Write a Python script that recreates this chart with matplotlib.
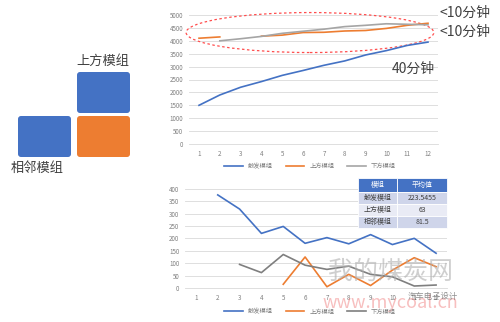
import numpy as np
import matplotlib
matplotlib.use('Agg')
import matplotlib.pyplot as plt
from matplotlib.patches import Ellipse, FancyBboxPatch, Rectangle

plt.rcParams['font.family'] = ['Noto Sans CJK SC', 'DejaVu Sans']

# top chart: time to heat up
x_top = np.arange(1, 13)
trigger_top = [1500, 1900, 2200, 2420, 2660, 2850, 3050, 3220, 3450, 3620, 3820, 3950]
upper_top = [4100, 4150, np.nan, 4180, 4220, 4320, 4330, 4380, 4400, 4480, 4600, 4680]
lower_top = [np.nan, 4000, 4080, 4170, 4290, 4370, 4450, 4550, 4600, 4660, 4640, 4620]
top_yticks = list(range(0, 5001, 500))

# bottom chart
x_bot = np.arange(1, 13)
trigger_bot = [np.nan, 375, 318, 220, 248, 180, 203, 178, 215, 175, 200, 140]
upper_bot = [np.nan, np.nan, np.nan, np.nan, 15, 125, 5, 55, 10, 72, 122, 86]
lower_bot = [np.nan, np.nan, 95, 62, 135, 92, 75, 88, 55, 45, 8, 12]
bot_yticks = list(range(0, 401, 50))

series_names = ['触发模组', '上方模组', '下方模组']
table_header = ['模组', '平均值']
table_rows = [['触发模组', '223.5455'], ['上方模组', '63'], ['相邻模组', '81.5']]

BLUE = '#4472C4'
ORANGE = '#ED7D31'
GRAY = '#A5A5A5'
TXT = '#7f7f7f'

W, H = 500, 322
fig = plt.figure(figsize=(W / 100, H / 100), dpi=100)


def px_axes(x0, x1, ytop, ybot):
    return fig.add_axes([x0 / W, 1 - ybot / H, (x1 - x0) / W, (ybot - ytop) / H])


def style(ax, yticks, ymax):
    ax.set_ylim(0, ymax)
    ax.set_xlim(0.5, 12.5)
    ax.set_yticks(yticks)
    ax.set_xticks(range(1, 13))
    ax.grid(axis='y', color='#d9d9d9', lw=0.6)
    ax.set_axisbelow(True)
    for s in ['top', 'right', 'left']:
        ax.spines[s].set_visible(False)
    ax.spines['bottom'].set_color('#d9d9d9')
    ax.spines['bottom'].set_linewidth(0.6)
    ax.tick_params(length=0, labelsize=4.5, colors=TXT, pad=4)


# top chart
ax1 = px_axes(188.6, 438.4, 15, 144)
style(ax1, top_yticks, 5000)
ax1.plot(x_top, trigger_top, color=BLUE, lw=1.2, label=series_names[0])
ax1.plot(x_top, upper_top, color=ORANGE, lw=1.2, label=series_names[1])
ax1.plot(x_top, lower_top, color=GRAY, lw=1.2, label=series_names[2])
ax1.add_patch(Ellipse((6.33, 4320), 11.9, 1550, fill=False, ec='#ff4d4d',
                      ls=(0, (2, 2)), lw=0.9, clip_on=False))
fig.legend(*ax1.get_legend_handles_labels(), loc='center', ncol=3,
           bbox_to_anchor=(310 / W, 1 - 166 / H), frameon=False, fontsize=4.5,
           handlelength=3, columnspacing=2, labelcolor=TXT)

# bottom chart
ax2 = px_axes(185, 447, 188.7, 288)
style(ax2, bot_yticks, 400)
ax2.plot(x_bot, trigger_bot, color=BLUE, lw=1.2, label=series_names[0])
ax2.plot(x_bot, upper_bot, color=ORANGE, lw=1.2, label=series_names[1])
ax2.plot(x_bot, lower_bot, color='#7f7f7f', lw=1.2, label=series_names[2])
fig.legend(*ax2.get_legend_handles_labels(), loc='center', ncol=3,
           bbox_to_anchor=(310 / W, 1 - 311.5 / H), frameon=False, fontsize=4.5,
           handlelength=3, columnspacing=2, labelcolor=TXT)

# overlay in pixel coords
ov = fig.add_axes([0, 0, 1, 1])
ov.set_xlim(0, W)
ov.set_ylim(H, 0)
ov.axis('off')
ov.patch.set_alpha(0)

for (x0, y0, c) in [(77, 72, BLUE), (77, 116, ORANGE), (18, 116, BLUE)]:
    ov.add_patch(FancyBboxPatch((x0 + 3, y0 + 3), 47, 35,
                                boxstyle='round,pad=3', fc=c, ec='none'))
ov.text(103, 61, '上方模组', ha='center', va='center', fontsize=9.5, color='#404040')
ov.text(37, 168, '相邻模组', ha='center', va='center', fontsize=9.5, color='#404040')

ov.text(439, 13, '<10分钟', ha='left', va='center', fontsize=10, color='#404040')
ov.text(439, 32, '<10分钟', ha='left', va='center', fontsize=10, color='#404040')
ov.text(392, 69, '40分钟', ha='left', va='center', fontsize=10, color='#404040')

# table
col_x = [358, 397, 447]
row_y = [178, 192, 204, 216, 228]
for j, h in enumerate(table_header):
    ov.add_patch(Rectangle((col_x[j], row_y[0]), col_x[j + 1] - col_x[j], row_y[1] - row_y[0],
                           fc=BLUE, ec='white', lw=0.6))
    ov.text((col_x[j] + col_x[j + 1]) / 2, (row_y[0] + row_y[1]) / 2, h,
            ha='center', va='center', fontsize=5, color='white')
for i, row in enumerate(table_rows):
    fc = '#CFD5EA' if i % 2 == 0 else '#E9EBF5'
    for j, v in enumerate(row):
        ov.add_patch(Rectangle((col_x[j], row_y[i + 1]), col_x[j + 1] - col_x[j],
                               row_y[i + 2] - row_y[i + 1], fc=fc, ec='white', lw=0.6))
        ov.text((col_x[j] + col_x[j + 1]) / 2, (row_y[i + 1] + row_y[i + 2]) / 2, v,
                ha='center', va='center', fontsize=5, color='#404040')

# watermark
ov.text(328, 272, '我的煤炭网', ha='left', va='center', fontsize=18, color='#b0b0b0', alpha=0.6)
ov.text(323, 303, 'www.mycoal.cn', ha='left', va='center', fontsize=13, color='#f08080', alpha=0.5)
ov.text(408, 296, '汽车电子设计', ha='left', va='center', fontsize=6, color='#606060', alpha=0.7)

fig.savefig('out.png', dpi=100)
